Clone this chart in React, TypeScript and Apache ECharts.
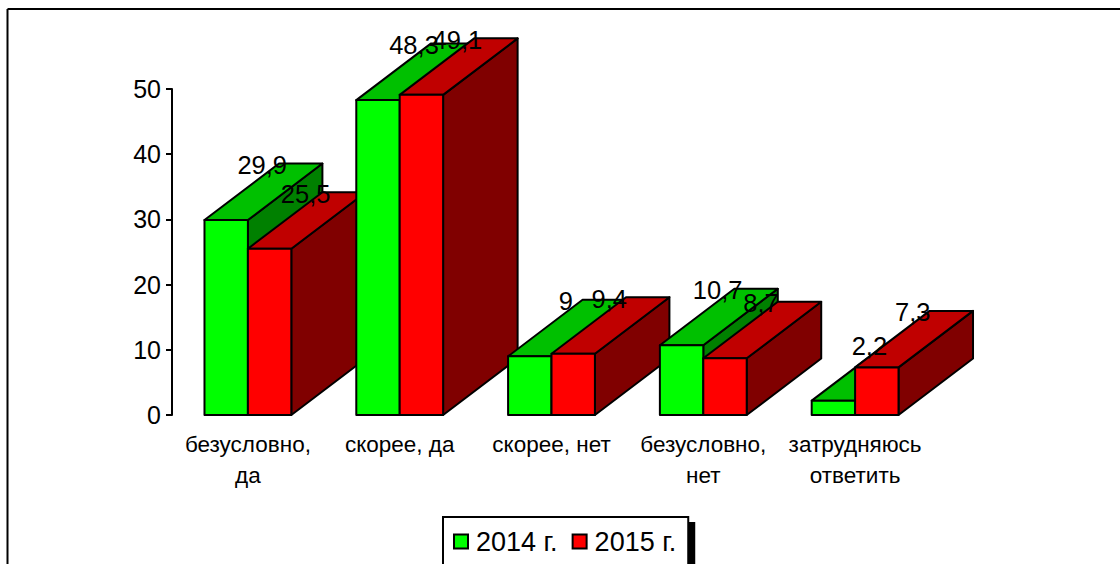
import React, { useEffect, useRef } from "react";
import * as echarts from "echarts";

const categories = ["безусловно,\nда", "скорее, да", "скорее, нет", "безусловно,\nнет", "затрудняюсь\nответить"];
const values2014 = [29.9, 48.3, 9, 10.7, 2.2];
const values2015 = [25.5, 49.1, 9.4, 8.7, 7.3];
const seriesNames = ["2014 г.", "2015 г."];

const FONT = '"Liberation Sans", Arial, sans-serif';
const DX = 74.5;
const DY = -56.5;
const BAR_RATIO = 0.286;
const LW = 2;

const palette = [
  { front: "#00ff00", top: "#00c000", side: "#008000" },
  { front: "#ff0000", top: "#c00000", side: "#800000" },
];

function bar3d(seriesIdx: number) {
  return (params: any, api: any) => {
    const cat = api.value(0);
    const val = api.value(1);
    const band = api.size([1, 0])[0];
    const w = band * BAR_RATIO;
    const c = api.coord([cat, val]);
    const b = api.coord([cat, 0]);
    const x0 = c[0] + (seriesIdx - 1) * w;
    const x1 = x0 + w;
    const yt = c[1];
    const yb = b[1];
    const col = palette[seriesIdx];
    const z = cat * 10 + seriesIdx * 2;
    const st = (fill: string) => ({ fill, stroke: "#000", lineWidth: LW, lineJoin: "round" });
    return {
      type: "group",
      children: [
        { type: "polygon", z2: z, shape: { points: [[x1, yt], [x1 + DX, yt + DY], [x1 + DX, yb + DY], [x1, yb]] }, style: st(col.side) },
        { type: "polygon", z2: z, shape: { points: [[x0, yt], [x1, yt], [x1 + DX, yt + DY], [x0 + DX, yt + DY]] }, style: st(col.top) },
        { type: "rect", z2: z + 1, shape: { x: x0, y: yt, width: w, height: yb - yt }, style: st(col.front) },
        {
          type: "text",
          z2: 1000,
          x: x0 + w / 2 + 36,
          y: yt - 55,
          style: {
            text: String(val).replace(".", ","),
            font: `25.5px ${FONT}`,
            fill: "#000",
            align: "center",
            verticalAlign: "middle",
          },
        },
      ],
    };
  };
}

export default function App() {
  const ref = useRef<HTMLDivElement>(null);
  useEffect(() => {
    const chart = echarts.init(ref.current!, null, { renderer: "svg" });
    const mk = (name: string, vals: number[], i: number) => ({
      type: "custom",
      name,
      clip: false,
      renderItem: bar3d(i),
      itemStyle: { color: palette[i].front, borderColor: "#000", borderWidth: 2 },
      encode: { x: 0, y: 1 },
      data: vals.map((v, k) => [k, v]),
    });
    chart.setOption({
      animation: false,
      backgroundColor: "#fff",
      grid: { left: 172, top: 89, width: 759, height: 326 },
      xAxis: {
        type: "category",
        data: categories,
        axisLine: { show: false },
        axisTick: { show: false },
        axisLabel: { color: "#000", fontFamily: FONT, fontSize: 22.5, lineHeight: 31, margin: 14, interval: 0 },
      },
      yAxis: {
        type: "value",
        min: 0,
        max: 50,
        interval: 10,
        splitLine: { show: false },
        axisLine: { show: true, lineStyle: { color: "#000", width: 2 } },
        axisTick: { show: true, length: 6, lineStyle: { color: "#000", width: 2 } },
        axisLabel: { color: "#000", fontFamily: FONT, fontSize: 25, margin: 11 },
      },
      legend: {
        left: 443,
        top: 517,
        orient: "horizontal",
        padding: [11, 12, 26, 10],
        itemWidth: 14,
        itemHeight: 14,
        itemGap: 14,
        borderColor: "#000",
        borderWidth: 2,
        backgroundColor: "#fff",
        shadowColor: "#000",
        shadowOffsetX: 6,
        shadowOffsetY: 6,
        shadowBlur: 0,
        icon: "rect",
        textStyle: { color: "#000", fontFamily: FONT, fontSize: 27, padding: [0, 0, 0, 3] },
        data: seriesNames,
      },
      graphic: [
        { type: "line", silent: true, shape: { x1: 7.5, y1: 9, x2: 1120, y2: 9 }, style: { stroke: "#000", lineWidth: 2 } },
        { type: "line", silent: true, shape: { x1: 7.5, y1: 9, x2: 7.5, y2: 564 }, style: { stroke: "#000", lineWidth: 2 } },
      ],
      series: [mk(seriesNames[0], values2014, 0), mk(seriesNames[1], values2015, 1)],
    });
    return () => chart.dispose();
  }, []);
  return <div ref={ref} style={{ width: 1120, height: 564, position: "fixed", left: 0, top: 0 }} />;
}
